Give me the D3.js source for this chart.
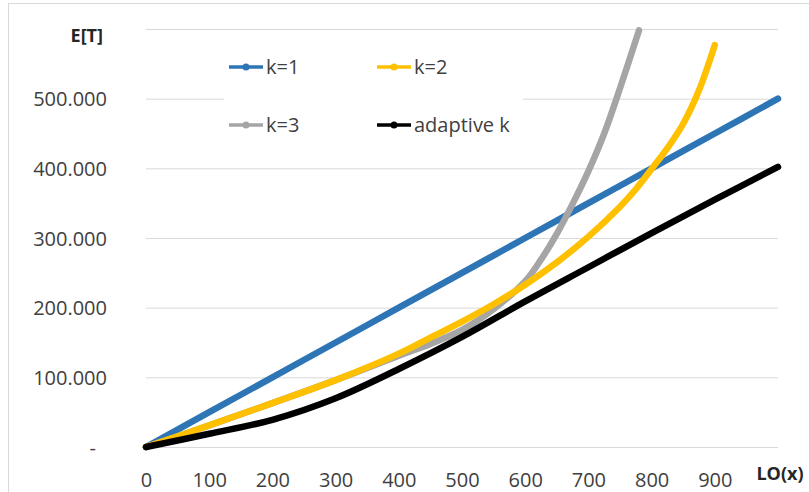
<!DOCTYPE html>
<html>
<head>
<meta charset="utf-8">
<script src="https://cdn.jsdelivr.net/npm/d3@7"></script>
<style>
  body { margin: 0; background: #fff; }
  text { font-family: "Open Sans", sans-serif; fill: #404040; }
</style>
</head>
<body>
<div id="chart"></div>
<script>
// series data (E[T] values against LO(x))
const seriesNames = ["k=1", "k=2", "k=3", "adaptive k"];
const seriesColors = ["#2e75b6", "#ffc000", "#a5a5a5", "#000000"];

const k1X = [0, 100, 200, 300, 400, 500, 600, 700, 800, 900, 1000];
const k1Y = [0, 50000, 100000, 150000, 200000, 250000, 300000, 350000, 400000, 450000, 500000];

const k2X = [0, 100, 200, 300, 400, 450, 500, 550, 600, 650, 700, 750, 775, 800, 825, 850, 875, 900];
const k2Y = [0, 31000, 63000, 96000, 134000, 157000, 180000, 205000, 233000, 265000, 302000, 345000, 370000, 399000, 429000, 464000, 512000, 577000];

const k3X = [0, 100, 200, 300, 400, 450, 500, 550, 600, 625, 650, 675, 700, 725, 750, 780];
const k3Y = [0, 31000, 63000, 96000, 131000, 148000, 168000, 198000, 238000, 269000, 306000, 349000, 396000, 450000, 515000, 598000];

const adX = [0, 100, 200, 300, 400, 500, 600, 700, 800, 900, 1000];
const adY = [0, 19000, 39000, 70000, 112000, 158000, 209000, 258000, 307000, 355000, 402000];

const xTicks = [0, 100, 200, 300, 400, 500, 600, 700, 800, 900];
const yTicks = [0, 100000, 200000, 300000, 400000, 500000];
const yGrid = [0, 100000, 200000, 300000, 400000, 500000, 600000];

// drawing order: k=3 goes under k=2, adaptive k on top
const drawOrder = [0, 2, 1, 3];

const series = [[k1X, k1Y], [k2X, k2Y], [k3X, k3Y], [adX, adY]].map((s, i) => ({
  name: seriesNames[i],
  color: seriesColors[i],
  values: s[0].map((x, j) => ({ x: x, y: s[1][j] }))
}));

const width = 809, height = 492;
const plot = { left: 146, right: 778, top: 29, bottom: 447 };

const svg = d3.select("#chart").append("svg")
  .attr("width", width)
  .attr("height", height);

// chart area border
svg.append("rect")
  .attr("x", 8.5).attr("y", 3.5)
  .attr("width", 830).attr("height", 520)
  .attr("fill", "#fff")
  .attr("stroke", "#d9d9d9");

const x = d3.scaleLinear().domain([0, 1000]).range([plot.left, plot.right]);
const y = d3.scaleLinear().domain([0, 600000]).range([plot.bottom, plot.top]);

const locale = d3.formatLocale({ decimal: ",", thousands: ".", grouping: [3], currency: ["", ""] });
const fmt = locale.format(",");

// gridlines
svg.append("g")
  .attr("transform", `translate(${plot.left},0)`)
  .call(d3.axisLeft(y).tickValues(yGrid).tickSize(-(plot.right - plot.left)).tickFormat(""))
  .call(g => g.select(".domain").remove())
  .call(g => g.selectAll("line").attr("stroke", "#d9d9d9").attr("stroke-width", 1));

// y axis labels
const yAxis = svg.append("g")
  .attr("transform", "translate(107,0)")
  .call(d3.axisLeft(y).tickValues(yTicks).tickSize(0).tickPadding(0)
    .tickFormat(d => d === 0 ? "-" : fmt(d)))
  .call(g => g.select(".domain").remove());
yAxis.selectAll("text")
  .attr("font-family", "Open Sans, sans-serif")
  .attr("font-size", 20)
  .attr("fill", "#404040")
  .attr("dy", "0.35em");
yAxis.selectAll(".tick").filter(d => d === 0).select("text").attr("x", -11);

// x axis labels
const xAxis = svg.append("g")
  .attr("transform", `translate(0,${plot.bottom})`)
  .call(d3.axisBottom(x).tickValues(xTicks).tickSize(0).tickPadding(26))
  .call(g => g.select(".domain").remove());
xAxis.selectAll("text")
  .attr("font-family", "Open Sans, sans-serif")
  .attr("font-size", 20)
  .attr("fill", "#404040");

// axis titles
svg.append("text")
  .attr("x", 103).attr("y", 42)
  .attr("text-anchor", "end")
  .attr("font-size", 18).attr("font-weight", "bold")
  .style("fill", "#262626")
  .text("E[T]");
svg.append("text")
  .attr("x", x(1000) + 2).attr("y", 480)
  .attr("text-anchor", "middle")
  .attr("font-size", 18).attr("font-weight", "bold")
  .style("fill", "#262626")
  .text("LO(x)");

// legend box hides gridlines behind it
svg.append("rect")
  .attr("x", 224).attr("y", 42)
  .attr("width", 299).attr("height", 110)
  .attr("fill", "#fff");

// series lines
const line = d3.line()
  .x(d => x(d.x))
  .y(d => y(d.y))
  .curve(d3.curveCatmullRom.alpha(0.5));

svg.append("g")
  .selectAll("path")
  .data(drawOrder.map(i => series[i]))
  .join("path")
  .attr("d", d => line(d.values))
  .attr("fill", "none")
  .attr("stroke", d => d.color)
  .attr("stroke-width", 6.5)
  .attr("stroke-linecap", "round")
  .attr("stroke-linejoin", "round");

// legend
const legendCols = [229, 377];
const legendRows = [67, 125];
const legend = svg.append("g")
  .selectAll("g")
  .data(series)
  .join("g")
  .attr("transform", (d, i) => `translate(${legendCols[i % 2]},${legendRows[Math.floor(i / 2)]})`);

legend.append("line")
  .attr("x1", 0).attr("x2", 34)
  .attr("stroke", d => d.color)
  .attr("stroke-width", 3.5);
legend.append("circle")
  .attr("cx", 17).attr("r", 3.5)
  .attr("fill", d => d.color);
legend.append("text")
  .attr("x", 37).attr("dy", "0.35em")
  .attr("font-size", 20)
  .text(d => d.name);
</script>
</body>
</html>
